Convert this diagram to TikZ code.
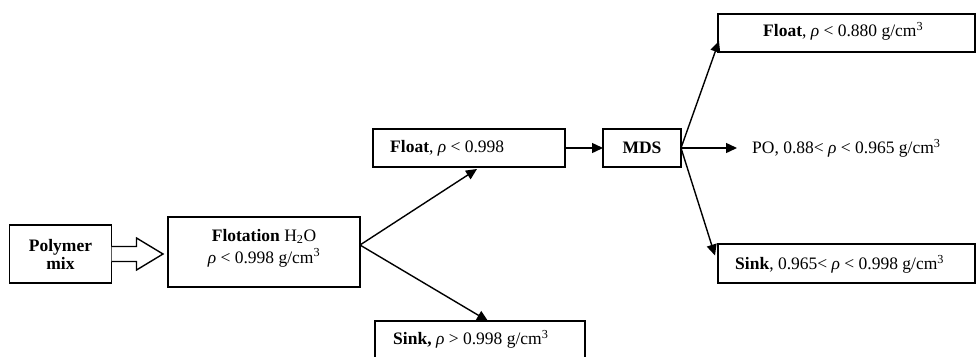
\documentclass[tikz,border=0pt]{standalone}
\usepackage{fontspec}
\setmainfont{Liberation Serif}
\usetikzlibrary{arrows.meta,calc}
\newcommand{\rh}{\textit{ρ}}
\newcommand{\gcm}{g/cm\textsuperscript{3}}
\begin{document}
\begin{tikzpicture}[x=1pt,y=-1pt,
  box/.style={draw, line width=1.5pt, inner sep=0pt, outer sep=0pt},
  lbl/.style={inner sep=0pt, anchor=west, font=\fontsize{17.5}{19}\selectfont},
  ctr/.style={inner sep=0pt, align=center, font=\fontsize{17.5}{19}\selectfont},
  conn/.style={line width=1.4pt, -{Triangle[length=11pt,width=10pt]}},
  hollow/.style={line width=1.4pt, fill=white, line join=miter}]
\useasboundingbox (0,0) rectangle (976,356);
% boxes
\node[box, minimum width=102pt, minimum height=58pt] (poly) at (60.5,254) {};
\node[ctr, font=\fontsize{17.5}{18}\selectfont\bfseries] (polyt) at (poly.center) {Polymer\\mix};
\node[box, minimum width=192pt, minimum height=70pt] (flot) at (264,252) {};
\node[ctr] (flott) at (264,248) {\textbf{Flotation} H\textsubscript{2}O\\[3pt]\rh{} < 0.998 \gcm};
\node[box, minimum width=192pt, minimum height=38pt] (fl1) at (469,148) {};
\node[lbl] (fl1t) at (390,148) {\textbf{Float}, \rh{} < 0.998};
\node[box, minimum width=78pt, minimum height=38pt] (mds) at (642,148) {};
\node[ctr, font=\fontsize{17.5}{19}\selectfont\bfseries] (mdst) at (mds.center) {MDS};
\node[box, minimum width=210pt, minimum height=50pt] (sk1) at (480,346) {};
\node[lbl] (sk1t) at (393,339) {\textbf{Sink,} \rh{} > 0.998 \gcm};
\node[box, minimum width=257pt, minimum height=38pt] (fl2) at (846.5,33) {};
\node[lbl] (fl2t) at (763,31) {\textbf{Float}, \rh{} < 0.880 \gcm};
\node[lbl] (pot) at (752,148) {PO, 0.88< \rh{} < 0.965 \gcm};
\node[box, minimum width=257pt, minimum height=39pt] (sk2) at (846.5,263.5) {};
\node[lbl] (sk2t) at (735,264) {\textbf{Sink}, 0.965< \rh{} < 0.998 \gcm};
% hollow arrow
\coordinate (htip) at ($(flot.west)+(-5,2)$);
\draw[hollow] (poly.east) ++(0,-7.5) -- ++(25,0) -- ++(0,-8.5) -- (htip)
  -- ($(poly.east)+(25,16)$) -- ++(0,-8.5) -- ($(poly.east)+(0,7.5)$);
% fork
\coordinate (fork) at ($(flot.east)+(0,-7)$);
\draw[conn] (fork) -- ($(fl1.south)+(8,2)$);
\draw[conn] (fork) -- ($(sk1.north)+(8,0)$);
\draw[conn] (fl1.east) -- (mds.west);
\draw[conn] (mds.east) -- ($(fl2.west)+(1,8)$);
\coordinate (potip) at ($(pot.west)+(-15,0)$);
\draw[conn] (mds.east) -- (potip);
\draw[conn] (mds.east) -- ($(sk2.west)+(-3,-8)$);
\end{tikzpicture}
\end{document}
